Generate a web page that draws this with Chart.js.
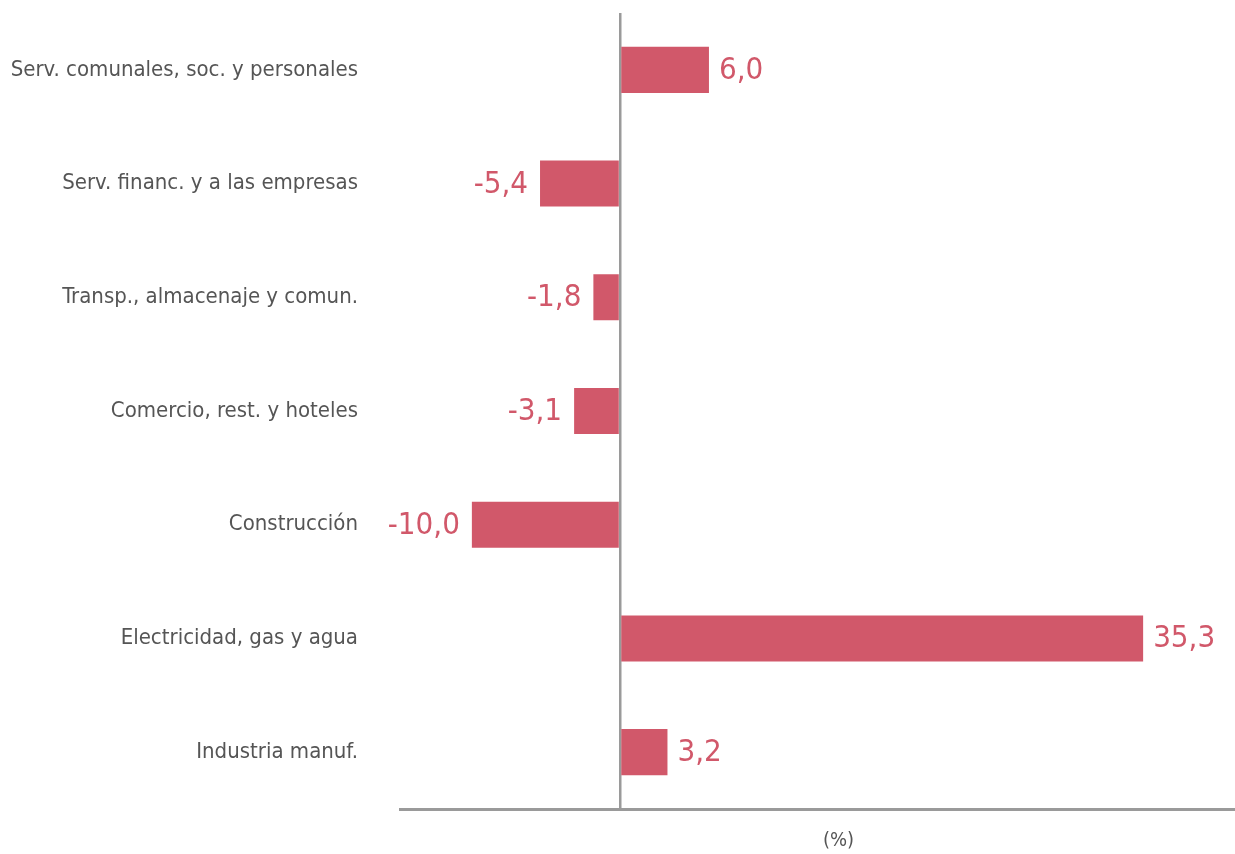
<!DOCTYPE html>
<html>
<head>
<meta charset="utf-8">
<script src="https://cdn.jsdelivr.net/npm/chart.js@4.4.1/dist/chart.umd.min.js"></script>
<style>
  html, body { margin: 0; padding: 0; background: #fff; }
  #wrap { width: 1235px; height: 854px; position: relative; }
</style>
</head>
<body>
<div id="wrap"><canvas id="barChart"></canvas></div>
<script>
// Sectors, top to bottom as shown
const sectores = [
    'Serv. comunales, soc. y personales',
    'Serv. financ. y a las empresas',
    'Transp., almacenaje y comun.',
    'Comercio, rest. y hoteles',
    'Construcción',
    'Electricidad, gas y agua',
    'Industria manuf.'
];
const variacion = [6.0, -5.4, -1.8, -3.1, -10.0, 35.3, 3.2];
const unidad = '(%)';

const barColor = '#d1586a';
const axisColor = '#9a9a9a';
const fontFamily = '"Liberation Sans Narrow", "DejaVu Sans Condensed", Roboto, sans-serif';

// Value labels next to each bar + unit label under the axis
const valueLabels = {
    id: 'valueLabels',
    afterDatasetsDraw(chart) {
        const ctx = chart.ctx;
        const meta = chart.getDatasetMeta(0);
        ctx.save();
        ctx.fillStyle = barColor;
        ctx.font = '300 31px ' + fontFamily;
        ctx.textBaseline = 'middle';
        meta.data.forEach(function(bar, i) {
            const v = variacion[i];
            const txt = v.toFixed(1).replace('.', ',');
            if (v >= 0) {
                ctx.textAlign = 'left';
                ctx.fillText(txt, bar.x + 10, bar.y + 1);
            } else {
                ctx.textAlign = 'right';
                ctx.fillText(txt, bar.x - 12, bar.y + 1);
            }
        });
        const area = chart.chartArea;
        ctx.fillStyle = '#555';
        ctx.font = '20px ' + fontFamily;
        ctx.textAlign = 'center';
        ctx.fillText(unidad, (area.left + area.right) / 2 + 21, area.bottom + 32);
        ctx.restore();
    }
};

const ctx = document.getElementById('barChart').getContext('2d');
new Chart(ctx, {
    type: 'bar',
    data: {
        labels: sectores,
        datasets: [{
            data: variacion,
            backgroundColor: barColor,
            borderWidth: 0,
            barPercentage: 0.405,
            categoryPercentage: 1
        }]
    },
    options: {
        indexAxis: 'y',
        responsive: true,
        maintainAspectRatio: false,
        animation: false,
        layout: { padding: { top: 13, right: 0, bottom: 0, left: 0 } },
        plugins: {
            legend: { display: false },
            tooltip: { enabled: false }
        },
        scales: {
            x: {
                min: -14.85,
                max: 41.5,
                ticks: { display: false, stepSize: 1 },
                grid: {
                    drawTicks: false,
                    lineWidth: 2.5,
                    color: function(c) {
                        return c.tick && c.tick.value === 0 ? axisColor : 'rgba(0,0,0,0)';
                    }
                },
                border: { display: true, color: axisColor, width: 3 },
                afterFit: function(scale) {
                    scale.height = 45;
                    scale.paddingLeft = 0;
                    scale.paddingRight = 0;
                }
            },
            y: {
                ticks: {
                    color: '#555',
                    font: { family: fontFamily, size: 22 },
                    padding: 0
                },
                grid: { display: false, drawTicks: true, tickLength: 42 },
                border: { display: false },
                afterFit: function(scale) {
                    scale.width = 400;
                    scale.paddingTop = 0;
                    scale.paddingBottom = 0;
                }
            }
        }
    },
    plugins: [valueLabels]
});
</script>
</body>
</html>
